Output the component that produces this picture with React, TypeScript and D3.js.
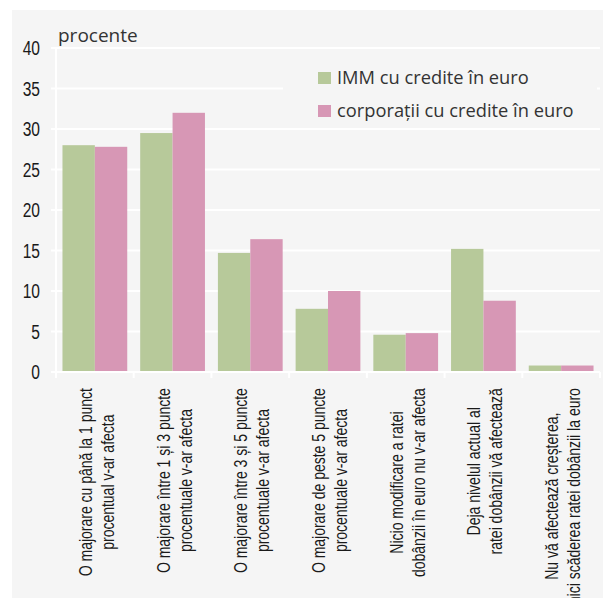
import React, { useEffect, useRef } from 'react';
import * as d3 from 'd3';

// chart data
const categories: string[][] = [
  ['O majorare cu până la 1 punct', 'procentual v-ar afecta'],
  ['O majorare între 1 și 3 puncte', 'procentuale v-ar afecta'],
  ['O majorare între 3 și 5 puncte', 'procentuale v-ar afecta'],
  ['O majorare de peste 5 puncte', 'procentuale v-ar afecta'],
  ['Nicio modificare a ratei', 'dobânzii în euro nu v-ar afecta'],
  ['Deja nivelul actual al', 'ratei dobânzii vă afectează'],
  ['Nu vă afectează creșterea,', 'nici scăderea ratei dobânzii la euro'],
];
const smeValues = [28.0, 29.5, 14.7, 7.8, 4.6, 15.2, 0.8];
const corpValues = [27.8, 32.0, 16.4, 10.0, 4.8, 8.8, 0.8];
const seriesNames = ['IMM cu credite în euro', 'corporații cu credite în euro'];
const seriesColors = ['#b7c99a', '#d797b5'];
const yTicks = [0, 5, 10, 15, 20, 25, 30, 35, 40];

const W = 603;
const H = 598;
const condensed = '"Liberation Sans", Arial, sans-serif';
const regular = '"Open Sans", "Noto Sans", sans-serif';

const App = () => {
  const ref = useRef<SVGSVGElement>(null);

  useEffect(() => {
    const svg = d3.select(ref.current);
    svg.selectAll('*').remove();

    const left = 56, right = 600, top = 48, bottom = 372;

    const x0 = d3.scaleBand<number>().domain(d3.range(categories.length)).range([left, right]).padding(0);
    const x1 = d3.scaleBand<number>().domain([0, 1]).range([0, x0.bandwidth()]).paddingInner(0).paddingOuter(0.2);
    const y = d3.scaleLinear().domain([0, 40]).range([bottom, top]);

    svg.append('rect').attr('x', 12).attr('y', 10).attr('width', W - 12).attr('height', H - 10).attr('fill', '#f5f5f5');

    // gridlines
    svg.append('g').selectAll('line').data(yTicks).join('line')
      .attr('x1', left - 5).attr('x2', right)
      .attr('y1', d => y(d)).attr('y2', d => y(d))
      .attr('stroke', '#ffffff').attr('stroke-width', 2);

    // y axis line
    svg.append('line').attr('x1', left).attr('x2', left).attr('y1', top).attr('y2', bottom)
      .attr('stroke', '#ffffff').attr('stroke-width', 2);

    // y labels (squeezed to look like a condensed face)
    svg.append('g').selectAll('text').data(yTicks).join('text')
      .attr('transform', d => `translate(40,${y(d) + 7}) scale(0.8,1)`)
      .attr('text-anchor', 'end')
      .attr('font-family', condensed).attr('font-size', 19.5).attr('fill', '#1a1a1a')
      .text(d => d);

    svg.append('text').attr('x', 58).attr('y', 42)
      .attr('font-family', regular).attr('font-size', 19).attr('fill', '#333')
      .text('procente');

    // legend box covers grid
    svg.append('rect').attr('x', 283).attr('y', 52).attr('width', 314).attr('height', 74).attr('fill', '#f5f5f5');
    const legend = svg.append('g');
    seriesNames.forEach((name, i) => {
      legend.append('rect').attr('x', 318).attr('y', 72 + i * 33).attr('width', 13).attr('height', 12).attr('fill', seriesColors[i]);
      legend.append('text').attr('x', 337).attr('y', 84 + i * 33)
        .attr('font-family', regular).attr('font-size', 18.3).attr('fill', '#333')
        .text(name);
    });

    // bars
    const series = [smeValues, corpValues];
    const groups = svg.append('g').selectAll('g').data(d3.range(categories.length)).join('g')
      .attr('transform', d => `translate(${x0(d)},0)`);
    groups.selectAll('rect').data(i => series.map((s, k) => ({ k, v: s[i] }))).join('rect')
      .attr('x', d => x1(d.k)!).attr('width', x1.bandwidth())
      .attr('y', d => y(d.v)).attr('height', d => bottom - y(d.v))
      .attr('fill', d => seriesColors[d.k]);

    // x axis + ticks
    svg.append('line').attr('x1', left - 5).attr('x2', right).attr('y1', bottom).attr('y2', bottom)
      .attr('stroke', '#ffffff').attr('stroke-width', 2);
    const bounds = d3.range(categories.length + 1).map(i => left + i * x0.step());
    svg.append('g').selectAll('line').data(bounds).join('line')
      .attr('x1', d => d).attr('x2', d => d).attr('y1', bottom).attr('y2', bottom + 6)
      .attr('stroke', '#ffffff').attr('stroke-width', 2);

    // rotated category labels
    const blockTop = 388;
    const squeeze = 0.8;
    categories.forEach((lines, i) => {
      const cx = x0(i)! + x0.bandwidth() / 2;
      const g = svg.append('g');
      const texts = lines.map(line =>
        g.append('text')
          .attr('font-family', condensed).attr('font-size', 17.5).attr('fill', '#1a1a1a')
          .attr('text-anchor', 'middle')
          .text(line)
      );
      const maxW = (d3.max(texts, t => (t.node() as SVGTextElement).getComputedTextLength()) || 0) * squeeze;
      texts.forEach((t, j) => {
        const bx = cx - 3 + j * 22;
        const by = blockTop + maxW / 2;
        t.attr('transform', `translate(${bx},${by}) rotate(-90) scale(${squeeze},1)`);
      });
    });
  }, []);

  return (
    <svg ref={ref} width={W} height={H} style={{ position: 'absolute', left: 0, top: 0 }} />
  );
};

export default App;
